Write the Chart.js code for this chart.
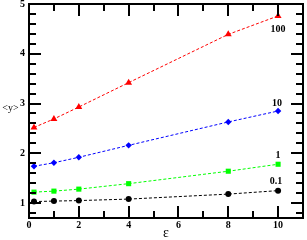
<!DOCTYPE html>
<html><head><meta charset="utf-8">
<script src="https://cdn.jsdelivr.net/npm/chart.js@4"></script>
<style>html,body{margin:0;padding:0;background:#fff}#wrap{width:307px;height:240px}</style>
</head><body><div id="wrap"><canvas id="c" width="307" height="240"></canvas></div>
<script>
// ---- data ----
const epsilon = [0.2, 1, 2, 4, 8, 10];
const y100 = [2.52, 2.69, 2.93, 3.42, 4.39, 4.76];
const y10 = [1.74, 1.81, 1.92, 2.16, 2.63, 2.85];
const y1 = [1.22, 1.24, 1.28, 1.39, 1.64, 1.78];
const y01 = [1.03, 1.04, 1.05, 1.08, 1.18, 1.25];
const seriesNames = ['100', '10', '1', '0.1'];
const xTicks = [0, 2, 4, 6, 8, 10];
const xMinorTicks = [1, 3, 5, 7, 9];
const yTicks = [1, 2, 3, 4, 5];
const yMinorTicks = [0.8, 1.2, 1.4, 1.6, 1.8, 2.2, 2.4, 2.6, 2.8, 3.2, 3.4, 3.6, 3.8, 4.2, 4.4, 4.6, 4.8];
const xTitle = 'ε';
const yTitle = '<y>';

// ---- styles ----
const colors = ['#ff0000', '#0000ff', '#00ff00', '#000000'];
const shapes = ['triangle', 'rectRot', 'rect', 'circle'];
const radii = [4, 3.2, 3.6, 3];
const nameOffsets = [[0, 13], [-1, -8], [0, -9], [-2, -9]];
const serif = '"Liberation Serif", "DejaVu Serif", serif';

const series = [y100, y10, y1, y01];
const datasets = series.map((vals, i) => ({
  label: seriesNames[i],
  data: epsilon.map((x, j) => ({x: x, y: vals[j]})),
  borderColor: colors[i],
  backgroundColor: colors[i],
  borderWidth: 1,
  borderDash: [3, 2],
  pointStyle: shapes[i],
  pointRadius: radii[i],
  pointBorderWidth: 0,
  pointBackgroundColor: colors[i],
  fill: false,
  tension: 0
}));

const frame = {
  id: 'frame',
  afterDraw(chart) {
    const ctx = chart.ctx, a = chart.chartArea;
    const xs = chart.scales.x, ys = chart.scales.y;
    ctx.save();
    ctx.strokeStyle = '#000';
    ctx.lineWidth = 2;
    ctx.setLineDash([]);
    ctx.strokeRect(a.left, a.top, a.right - a.left, a.bottom - a.top);
    const tx = (v, len) => {
      const p = Math.round(xs.getPixelForValue(v));
      ctx.beginPath();
      ctx.moveTo(p, a.bottom); ctx.lineTo(p, a.bottom - len);
      ctx.moveTo(p, a.top); ctx.lineTo(p, a.top + len);
      ctx.stroke();
    };
    const ty = (v, len) => {
      const p = Math.round(ys.getPixelForValue(v));
      ctx.beginPath();
      ctx.moveTo(a.left, p); ctx.lineTo(a.left + len, p);
      ctx.moveTo(a.right, p); ctx.lineTo(a.right - len, p);
      ctx.stroke();
    };
    xTicks.forEach(v => tx(v, 12));
    xMinorTicks.forEach(v => tx(v, 7));
    yTicks.forEach(v => ty(v, 12));
    yMinorTicks.forEach(v => ty(v, 7));

    ctx.fillStyle = '#000';
    ctx.font = 'bold 10px ' + serif;
    ctx.textBaseline = 'middle';
    ctx.textAlign = 'center';
    xTicks.forEach(v => ctx.fillText(String(v), xs.getPixelForValue(v), a.bottom + 7));
    ctx.textAlign = 'right';
    yTicks.forEach(v => ctx.fillText(String(v), a.left - 4, ys.getPixelForValue(v)));

    // series names near the last point
    ctx.textAlign = 'center';
    ctx.font = 'bold 10px ' + serif;
    series.forEach((vals, i) => {
      const last = vals.length - 1;
      const px = xs.getPixelForValue(epsilon[last]) + nameOffsets[i][0];
      const py = ys.getPixelForValue(vals[last]) + nameOffsets[i][1];
      ctx.fillText(seriesNames[i], px, py);
    });

    // axis titles
    ctx.font = '14px ' + serif;
    ctx.textAlign = 'center';
    ctx.fillText(xTitle, (a.left + a.right) / 2, a.bottom + 15);
    ctx.font = '10px ' + serif;
    ctx.fillText(yTitle, 10.5, ys.getPixelForValue(2.9));
    ctx.restore();
  }
};

new Chart(document.getElementById('c'), {
  type: 'line',
  data: {datasets: datasets},
  options: {
    responsive: false,
    animation: false,
    devicePixelRatio: 1,
    layout: {padding: {left: 29, top: 4, right: 1, bottom: 22}},
    plugins: {legend: {display: false}, tooltip: {enabled: false}},
    scales: {
      x: {type: 'linear', min: 0, max: 11, display: false},
      y: {type: 'linear', min: 0.7, max: 5, display: false}
    }
  },
  plugins: [frame]
});
</script>
</body></html>
